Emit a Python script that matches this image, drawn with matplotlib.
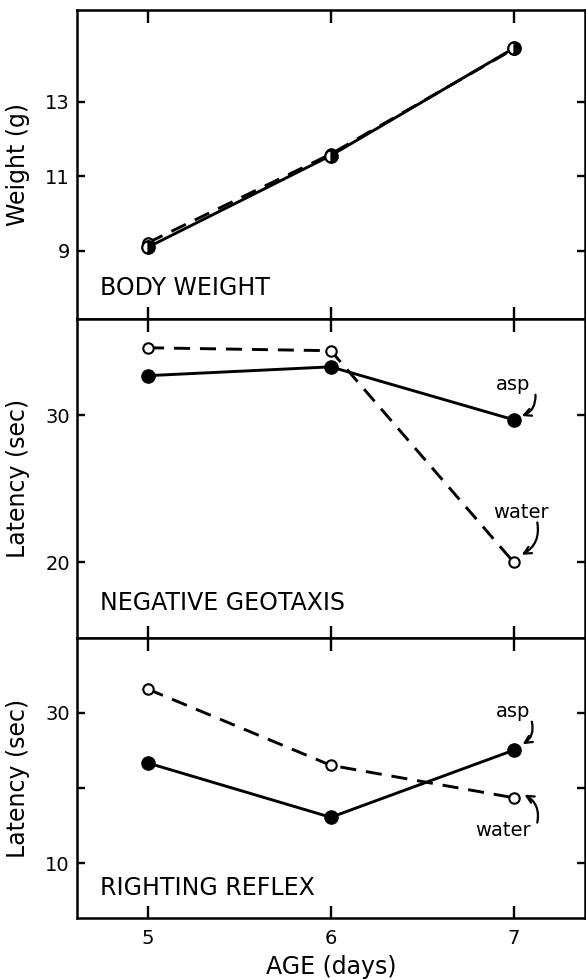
"""Three stacked panels: body weight, negative geotaxis, righting reflex."""

import matplotlib
matplotlib.use("Agg")
import matplotlib.pyplot as plt

plt.rcParams["font.family"] = ["DejaVu Sans"]

days = [5, 6, 7]

weight_asp = [9.1, 11.56, 14.44]
weight_water = [9.22, 11.6, 14.42]

geotaxis_asp = [32.7, 33.3, 29.7]
geotaxis_water = [34.6, 34.4, 20.0]

righting_asp = [23.3, 16.1, 25.0]
righting_water = [33.1, 23.0, 18.7]

panel_titles = ["BODY WEIGHT", "NEGATIVE GEOTAXIS", "RIGHTING REFLEX"]

LW = 2.1
DASH = (0, (5.5, 3.4))

fig = plt.figure(figsize=(5.86, 9.8), dpi=100)
left, width = 0.131, 0.867
ax1 = fig.add_axes([left, 0.6745, width, 0.3153])
ax2 = fig.add_axes([left, 0.349, width, 0.3255])
ax3 = fig.add_axes([left, 0.0633, width, 0.2857])


def style(ax, yticks, ylabels, ylim, ylab_y, show_x):
    ax.set_xlim(4.61, 7.39)
    ax.set_ylim(*ylim)
    ax.set_xticks(days)
    ax.set_yticks(yticks)
    ax.set_yticklabels(ylabels)
    for s in ax.spines.values():
        s.set_linewidth(1.8)
    ax.tick_params(axis="x", direction="in", top=True, bottom=True,
                   length=9, width=1.7, labelsize=14, pad=8,
                   labelbottom=show_x)
    ax.tick_params(axis="y", direction="in", left=True, right=True,
                   length=6, width=1.7, labelsize=14, pad=5)
    ax.yaxis.set_label_coords(-0.092, ylab_y)


# body weight
ax1.plot(days, weight_water, color="black", lw=LW, ls=DASH, marker="o",
         ms=7.5, mfc="white", mec="black", mew=1.6, zorder=3)
ax1.plot(days, weight_asp, color="black", lw=LW, marker="o", ms=9,
         fillstyle="right", mfc="black", mfcalt="white", mec="black",
         mew=1.6, zorder=4)
style(ax1, [9, 11, 13], ["9", "11", "13"], (7.17, 15.47), 0.427, False)
ax1.set_ylabel("Weight (g)", fontsize=17)

# negative geotaxis
ax2.plot(days, geotaxis_water, color="black", lw=LW, ls=DASH, marker="o",
         ms=7.5, mfc="white", mec="black", mew=1.5, zorder=3)
ax2.plot(days, geotaxis_asp, color="black", lw=LW, marker="o", ms=9.5,
         mfc="black", mec="black", zorder=4)
style(ax2, [20, 30], ["20", "30"], (14.83, 36.56), 0.467, False)
ax2.set_ylabel("Latency (sec)", fontsize=17)

# righting reflex
ax3.plot(days, righting_water, color="black", lw=LW, ls=DASH, marker="o",
         ms=7.5, mfc="white", mec="black", mew=1.5, zorder=3)
ax3.plot(days, righting_asp, color="black", lw=LW, marker="o", ms=9.5,
         mfc="black", mec="black", zorder=4)
style(ax3, [10, 20, 30], ["10", "", "30"], (2.74, 39.9), 0.46, True)
ax3.set_ylabel("Latency (sec)", fontsize=17)
ax3.set_xlabel("AGE (days)", fontsize=17, labelpad=5)

for ax, title, y in zip([ax1, ax2, ax3], panel_titles, [0.078, 0.088, 0.082]):
    ax.text(0.045, y, title, transform=ax.transAxes, fontsize=17,
            ha="left", va="baseline")

arrow = dict(arrowstyle="->", color="black", lw=1.6, shrinkA=0, shrinkB=0,
             mutation_scale=13)

# labels with curved arrows
ax2.text(7.0, 32.1, "asp", fontsize=14, ha="center", va="center")
ax2.annotate("", xy=(7.045, 29.95), xytext=(7.12, 31.4),
             arrowprops=dict(arrow, connectionstyle="arc3,rad=-0.35"))
ax2.text(7.04, 23.35, "water", fontsize=14, ha="center", va="center")
ax2.annotate("", xy=(7.045, 20.5), xytext=(7.13, 22.7),
             arrowprops=dict(arrow, connectionstyle="arc3,rad=-0.35"))

ax3.text(7.0, 30.1, "asp", fontsize=14, ha="center", va="center")
ax3.annotate("", xy=(7.05, 25.8), xytext=(7.10, 28.8),
             arrowprops=dict(arrow, connectionstyle="arc3,rad=-0.35"))
ax3.text(6.94, 14.3, "water", fontsize=14, ha="center", va="center")
ax3.annotate("", xy=(7.06, 19.1), xytext=(7.13, 15.4),
             arrowprops=dict(arrow, connectionstyle="arc3,rad=0.35"))

fig.savefig("out.png", dpi=100)
plt.close(fig)
